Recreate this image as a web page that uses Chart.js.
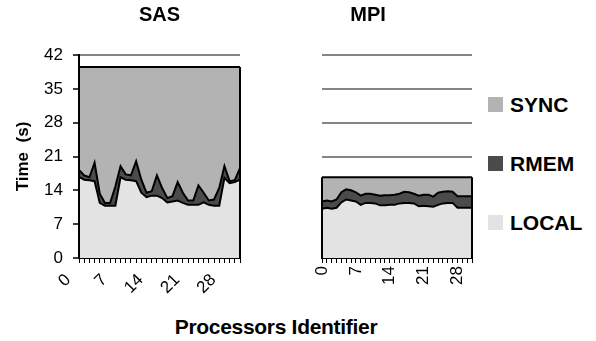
<!DOCTYPE html>
<html>
<head>
<meta charset="utf-8">
<script src="https://cdn.jsdelivr.net/npm/chart.js@4.4.1/dist/chart.umd.min.js"></script>
<style>
  body { margin: 0; background: #fff; font-family: 'Liberation Sans', Arial, sans-serif; }
  #wrap { position: relative; width: 596px; height: 341px; overflow: hidden; }
  canvas { position: absolute; top: 0; }
  #sasChart { left: 0; }
  #mpiChart { left: 262px; }
  #xTitle { position: absolute; left: 156px; width: 240px; top: 315px; text-align: center;
            font-weight: bold; font-size: 21px; white-space: nowrap; letter-spacing: -0.3px; }
  #legend { position: absolute; left: 488px; top: 0; }
  .item { position: absolute; left: 0; white-space: nowrap; font-weight: bold; font-size: 21px; line-height: 20px; }
  .item span.box { display: inline-block; width: 15px; height: 15px; vertical-align: 0px; margin-right: 7px; }
</style>
</head>
<body>
<div id="wrap">
  <canvas id="sasChart" width="250" height="310"></canvas>
  <canvas id="mpiChart" width="212" height="310"></canvas>
  <div id="xTitle">Processors Identifier</div>
  <div id="legend"></div>
</div>
<script>
// processeurs 0..31
const processors = [0, 1, 2, 3, 4, 5, 6, 7, 8, 9, 10, 11, 12, 13, 14, 15,
                    16, 17, 18, 19, 20, 21, 22, 23, 24, 25, 26, 27, 28, 29, 30, 31];
const yTicks = [0, 7, 14, 21, 28, 35, 42];
const xLabelStep = 7;

// SAS (s)
const sasLocal = [16.8, 16.2, 16.1, 15.9, 11.4, 10.8, 10.8, 10.8, 16.7, 16.2, 16.1, 15.9, 13.5, 12.6, 12.9, 12.9,
                  12.4, 11.5, 11.7, 11.9, 11.4, 11.0, 11.0, 11.0, 11.5, 11.0, 10.8, 10.8, 16.6, 15.5, 15.7, 16.2];
const sasRmem  = [1.4, 0.9, 0.6, 3.8, 1.9, 0.6, 0.6, 4.0, 2.3, 1.1, 1.0, 4.1, 2.7, 0.9, 0.9, 4.2,
                  2.1, 0.9, 1.1, 3.8, 2.1, 0.9, 0.9, 4.0, 2.0, 0.9, 1.3, 3.7, 2.4, 0.4, 0.4, 2.4];
const sasSync  = [21.3, 22.4, 22.8, 19.8, 26.2, 28.1, 28.1, 24.7, 20.5, 22.2, 22.4, 19.5, 23.3, 26.0, 25.7, 22.4,
                  25.0, 27.1, 26.7, 23.8, 26.0, 27.6, 27.6, 24.5, 26.0, 27.6, 27.4, 25.0, 20.5, 23.6, 23.4, 20.9];

// MPI (s)
const mpiLocal = [10.2, 10.4, 10.2, 10.4, 11.5, 12.1, 11.9, 11.7, 11.0, 11.4, 11.4, 11.3, 10.9, 10.9, 11.0, 11.0,
                  11.3, 11.4, 11.4, 11.3, 10.7, 10.8, 10.7, 10.6, 11.0, 11.3, 11.4, 11.4, 10.4, 10.4, 10.4, 10.4];
const mpiRmem  = [1.5, 1.5, 1.5, 1.7, 2.1, 2.1, 2.1, 1.9, 1.9, 1.9, 1.9, 1.8, 2.0, 2.1, 2.0, 2.1,
                  2.0, 2.3, 2.2, 2.0, 2.2, 2.3, 2.4, 2.1, 2.5, 2.4, 2.4, 2.3, 2.4, 2.4, 2.4, 2.4];
const mpiSync  = [5.0, 4.8, 5.0, 4.6, 3.1, 2.5, 2.7, 3.1, 3.8, 3.4, 3.4, 3.6, 3.8, 3.7, 3.7, 3.6,
                  3.4, 3.0, 3.1, 3.4, 3.8, 3.6, 3.6, 4.0, 3.2, 3.0, 2.9, 3.0, 3.9, 3.9, 3.9, 3.9];

const seriesNames = ['LOCAL', 'RMEM', 'SYNC'];
const seriesColors = ['#e3e3e3', '#4b4b4b', '#b3b3b3'];

Chart.defaults.font.family = "'Liberation Sans', Arial, sans-serif";
Chart.defaults.color = '#000';

function makeDatasets(local, rmem, sync) {
    return [local, rmem, sync].map((vals, i) => ({
        label: seriesNames[i],
        data: vals,
        backgroundColor: seriesColors[i],
        borderColor: '#000',
        borderWidth: 2,
        pointRadius: 0,
        tension: 0,
        fill: i === 0 ? 'origin' : '-1'
    }));
}

// bords verticaux de la zone empilée
const edgePlugin = {
    id: 'edges',
    afterDatasetsDraw(chart) {
        const meta = chart.getDatasetMeta(chart.data.datasets.length - 1);
        const pts = meta.data;
        const y0 = chart.scales.y.getPixelForValue(0);
        const ctx = chart.ctx;
        ctx.save();
        ctx.strokeStyle = '#000';
        ctx.lineWidth = 2;
        [pts[0], pts[pts.length - 1]].forEach(p => {
            ctx.beginPath();
            ctx.moveTo(p.x, y0);
            ctx.lineTo(p.x, p.y);
            ctx.stroke();
        });
        ctx.restore();
    }
};

function makeOptions(title, rotation, isSas) {
    return {
        responsive: false,
        animation: false,
        layout: { padding: isSas ? { left: 0, right: 10, top: 0, bottom: 0 } : { left: 2, right: 2, top: 0, bottom: 0 } },
        plugins: {
            legend: { display: false },
            tooltip: { enabled: false },
            title: {
                display: true,
                text: title,
                fullSize: !isSas,
                font: { size: 20, weight: 'bold' },
                padding: { top: 3, bottom: 28 }
            }
        },
        scales: {
            x: {
                offset: false,
                afterFit: s => { s.height = 52; s.paddingRight = 0; s.paddingLeft = 0; },
                grid: { drawOnChartArea: false, drawTicks: true, tickLength: 5, tickColor: '#000', lineWidth: 1 },
                border: { display: true, color: '#000', width: 2 },
                ticks: {
                    autoSkip: false,
                    minRotation: rotation,
                    maxRotation: rotation,
                    padding: isSas ? 7 : 3,
                    labelOffset: isSas ? -11 : 0,
                    font: { size: 17 },
                    callback: (v, i) => (i % xLabelStep === 0 ? String(processors[i]) : '')
                }
            },
            y: {
                stacked: true,
                min: yTicks[0],
                max: yTicks[yTicks.length - 1],
                afterFit: s => { s.width = isSas ? 79 : 58; },
                afterBuildTicks: s => { s.ticks = yTicks.map(v => ({ value: v })); },
                grid: { color: '#858585', lineWidth: 2, drawTicks: isSas, tickLength: 6, tickColor: '#000', tickWidth: 1.5 },
                border: { display: isSas, color: '#000', width: 2 },
                ticks: { display: isSas, padding: 10, font: { size: 17 } },
                title: {
                    display: isSas,
                    text: 'Time  (s)',
                    font: { size: 17, weight: 'bold' },
                    padding: { top: 13 }
                }
            }
        }
    };
}

const sasChart = new Chart(document.getElementById('sasChart'), {
    type: 'line',
    data: { labels: processors, datasets: makeDatasets(sasLocal, sasRmem, sasSync) },
    options: makeOptions('SAS', 45, true),
    plugins: [edgePlugin]
});

const mpiChart = new Chart(document.getElementById('mpiChart'), {
    type: 'line',
    data: { labels: processors, datasets: makeDatasets(mpiLocal, mpiRmem, mpiSync) },
    options: makeOptions('MPI', 90, false),
    plugins: [edgePlugin]
});

// légende (SYNC, RMEM, LOCAL)
const legend = document.getElementById('legend');
const legendTops = [95, 154, 213];
mpiChart.data.datasets.slice().reverse().forEach((ds, i) => {
    const div = document.createElement('div');
    div.className = 'item';
    div.style.top = legendTops[i] + 'px';
    div.innerHTML = `<span class="box" style="background:${ds.backgroundColor}"></span>${ds.label}`;
    legend.appendChild(div);
});
</script>
</body>
</html>
